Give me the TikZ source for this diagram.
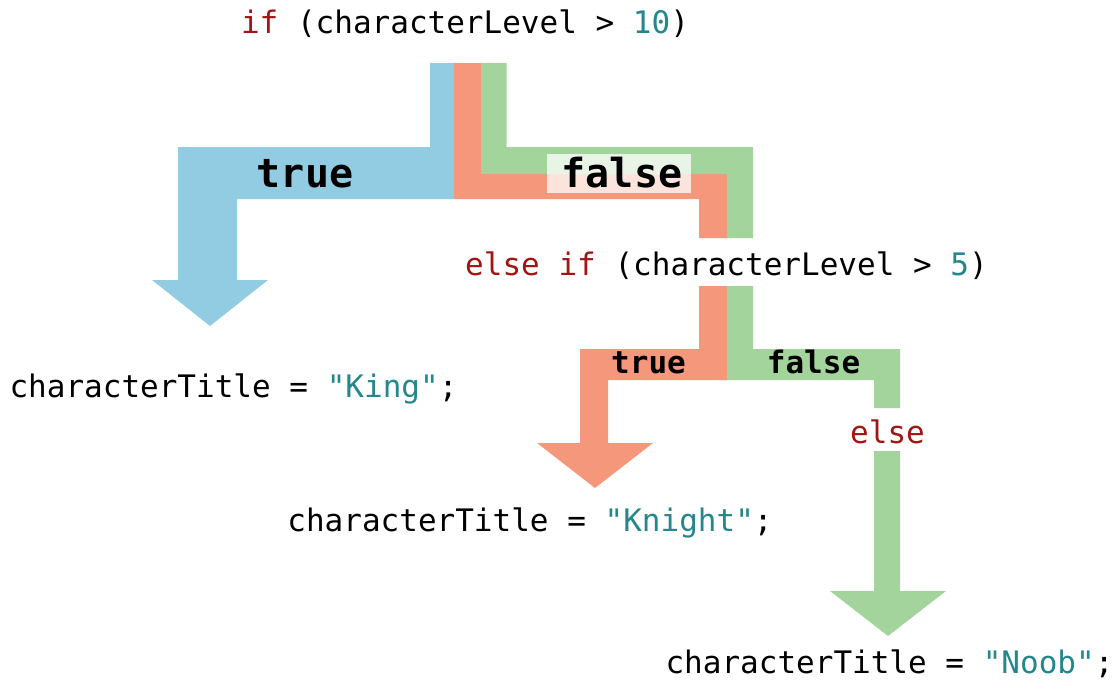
\documentclass[tikz,border=0pt]{standalone}
\usepackage{fontspec}
\newfontfamily\codefont{DejaVu Sans Mono}
\definecolor{bandblue}{RGB}{146,204,227}
\definecolor{bandorange}{RGB}{244,151,122}
\definecolor{bandgreen}{RGB}{162,212,156}
\definecolor{kwred}{RGB}{163,21,21}
\definecolor{litteal}{RGB}{35,135,140}
\newcommand{\kw}[1]{\textcolor{kwred}{#1}}
\newcommand{\lit}[1]{\textcolor{litteal}{#1}}
\begin{document}
\begin{tikzpicture}[x=1pt,y=-1pt,
  code/.style={inner sep=0pt, anchor=base, font={\codefont\fontsize{31}{37}\selectfont}},
  biglabel/.style={inner sep=0pt, anchor=base, font={\codefont\bfseries\fontsize{40}{48}\selectfont}},
  smalllabel/.style={inner sep=0pt, anchor=base, font={\codefont\bfseries\fontsize{31}{37}\selectfont}},
  band/.style={draw=none}]
\useasboundingbox (0,0) rectangle (1118,680);
\fill[white] (0,0) rectangle (1118,680);

% first test: true branch (blue)
\fill[bandblue] (430,63) -- (454,63) -- (454,199) -- (237,199) -- (237,280)
  -- (268,280) -- (210,326) -- (152,280) -- (178,280) -- (178,147) -- (430,147) -- cycle;
% first test: false branch (orange + green)
\fill[bandorange] (454,63) -- (481,63) -- (481,174) -- (727,174) -- (727,238)
  -- (699,238) -- (699,199) -- (454,199) -- cycle;
\fill[bandgreen] (481,63) -- (506.5,63) -- (506.5,147) -- (753,147) -- (753,238)
  -- (727,238) -- (727,174) -- (481,174) -- cycle;

% second test: true branch (orange)
\fill[bandorange] (699,286) -- (727,286) -- (727,380) -- (608,380) -- (608,443)
  -- (653,443) -- (595,488) -- (537,443) -- (580,443) -- (580,349) -- (699,349) -- cycle;
% second test: false branch (green)
\fill[bandgreen] (727,286) -- (753,286) -- (753,349) -- (900,349) -- (900,408)
  -- (874,408) -- (874,380) -- (727,380) -- cycle;
% else branch (green arrow)
\fill[bandgreen] (874,451) -- (900,451) -- (900,591) -- (946,591) -- (888,636)
  -- (830,591) -- (874,591) -- cycle;

% pale backing behind the upper "false"
\fill[white, opacity=0.75] (547,154) rectangle (691,193);

% branch labels
\node[biglabel] (t1) at (305,187) {true};
\node[biglabel] (f1) at (622,187) {false};
\node[smalllabel] (t2) at (648.5,373) {true};
\node[smalllabel] (f2) at (813.5,373) {false};

% code lines
\node[code] (if1) at (465,33) {\kw{if} (characterLevel > \lit{10})};
\node[code] (if2) at (726.5,275) {\kw{else if} (characterLevel > \lit{5})};
\node[code] (els) at (887.5,443) {\kw{else}};
\node[code] (king) at (233.5,397) {characterTitle = \lit{"King"};};
\node[code] (knight) at (530,531) {characterTitle = \lit{"Knight"};};
\node[code] (noob) at (889.5,673) {characterTitle = \lit{"Noob"};};
\end{tikzpicture}
\end{document}
